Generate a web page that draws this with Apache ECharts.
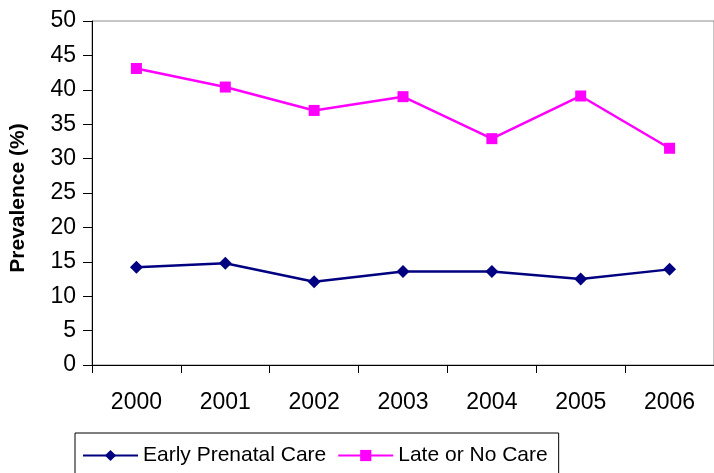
<!DOCTYPE html>
<html>
<head>
<meta charset="utf-8">
<script src="https://cdn.jsdelivr.net/npm/echarts@6/dist/echarts.min.js"></script>
<style>
  html, body { margin: 0; padding: 0; background: #fff; }
  #chart { width: 714px; height: 473px; }
</style>
</head>
<body>
<div id="chart"></div>
<script>
// Prenatal care prevalence by year
const years = ['2000', '2001', '2002', '2003', '2004', '2005', '2006'];
const earlyCare = [14.2, 14.8, 12.1, 13.6, 13.6, 12.5, 13.9];
const lateOrNoCare = [43.1, 40.4, 37.0, 39.0, 32.9, 39.1, 31.5];

const FONT = '"Liberation Sans", Arial, sans-serif';

const chart = echarts.init(document.getElementById('chart'), null, { renderer: 'canvas' });

chart.setOption({
  backgroundColor: '#ffffff',
  animation: false,
  textStyle: { fontFamily: FONT, color: '#000' },
  grid: {
    left: 92,
    top: 21,
    width: 626,
    height: 344,
    show: true,
    borderColor: '#8c8c8c',
    borderWidth: 1,
    containLabel: false
  },
  xAxis: {
    type: 'category',
    data: years,
    boundaryGap: true,
    axisLine: { lineStyle: { color: '#000', width: 1 } },
    axisTick: { show: true, length: 8, inside: false, alignWithLabel: false, lineStyle: { color: '#000' } },
    axisLabel: { fontSize: 23, fontFamily: FONT, color: '#000', margin: 26 },
    splitLine: { show: false }
  },
  yAxis: {
    type: 'value',
    min: 0,
    max: 50,
    interval: 5,
    axisLine: { show: true, lineStyle: { color: '#000', width: 1 } },
    axisTick: { show: true, length: 9, lineStyle: { color: '#000' } },
    axisLabel: { fontSize: 23, fontFamily: FONT, color: '#000', margin: 16 },
    splitLine: { show: false }
  },
  legend: {
    left: 75,
    top: 433,
    itemWidth: 55,
    itemHeight: 14,
    itemGap: 11,
    padding: [12, 11, 40, 7],
    borderColor: '#000',
    borderWidth: 1,
    textStyle: { fontSize: 21, fontFamily: FONT, color: '#000' },
    data: ['Early Prenatal Care', 'Late or No Care']
  },
  graphic: [{
    type: 'text',
    x: 18,
    y: 198,
    rotation: Math.PI / 2,
    style: {
      text: 'Prevalence (%)',
      fontSize: 21,
      fontWeight: 'bold',
      fontFamily: FONT,
      fill: '#000',
      align: 'center',
      verticalAlign: 'middle'
    }
  }],
  series: [
    {
      name: 'Early Prenatal Care',
      type: 'line',
      data: earlyCare,
      symbol: 'diamond',
      symbolSize: 13,
      itemStyle: { color: '#000080' },
      lineStyle: { color: '#000080', width: 2.5 }
    },
    {
      name: 'Late or No Care',
      type: 'line',
      data: lateOrNoCare,
      symbol: 'rect',
      symbolSize: 11,
      itemStyle: { color: '#ff00ff' },
      lineStyle: { color: '#ff00ff', width: 2.5 }
    }
  ]
});
</script>
</body>
</html>
